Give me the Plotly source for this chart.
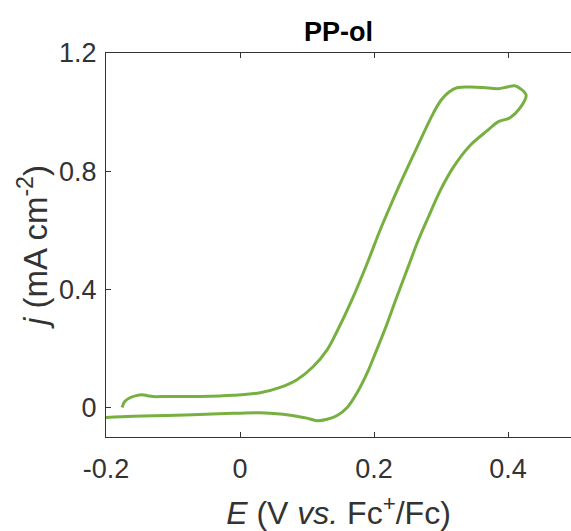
import plotly.graph_objects as go

# Cyclic voltammogram, PP-ol
E_forward = [-0.176, -0.172, -0.165, -0.155, -0.146, -0.138, -0.130, -0.109, -0.060, -0.010,
             0.030, 0.060, 0.085, 0.109, 0.130, 0.146, 0.167, 0.190, 0.209, 0.228,
             0.239, 0.264, 0.288, 0.300, 0.312, 0.325, 0.345, 0.363, 0.385, 0.399,
             0.410, 0.418, 0.427]
j_forward = [0.000, 0.020, 0.032, 0.040, 0.043, 0.040, 0.037, 0.037, 0.037, 0.041,
             0.050, 0.068, 0.094, 0.138, 0.195, 0.263, 0.364, 0.489, 0.600, 0.701,
             0.758, 0.880, 0.994, 1.040, 1.068, 1.083, 1.085, 1.083, 1.079, 1.085,
             1.089, 1.080, 1.057]
E_reverse = [0.418, 0.403, 0.385, 0.369, 0.343, 0.318, 0.299, 0.281, 0.265, 0.250,
             0.234, 0.216, 0.204, 0.190, 0.175, 0.160, 0.145, 0.130, 0.115, 0.100,
             0.085, 0.060, 0.030, -0.010, -0.060, -0.109, -0.160, -0.200]
j_reverse = [1.014, 0.981, 0.967, 0.937, 0.886, 0.812, 0.735, 0.644, 0.560, 0.470,
             0.374, 0.263, 0.195, 0.118, 0.051, 0.000, -0.027, -0.040, -0.045, -0.036,
             -0.030, -0.022, -0.018, -0.020, -0.024, -0.027, -0.030, -0.034]

x_ticks = [-0.2, 0, 0.2, 0.4]
x_tick_labels = ["-0.2", "0", "0.2", "0.4"]
y_ticks = [0, 0.4, 0.8, 1.2]
y_tick_labels = ["0", "0.4", "0.8", "1.2"]

E = E_forward + E_reverse
j = j_forward + j_reverse

AX = "#333333"
FONT = "Liberation Sans, Arial, Helvetica, sans-serif"

fig = go.Figure()
fig.add_trace(go.Scatter(x=E, y=j, mode="lines",
                         line=dict(color="#77B040", width=3, shape="spline", smoothing=1.0),
                         showlegend=False, hoverinfo="skip"))

fig.update_layout(
    width=571, height=531,
    margin=dict(l=106, r=0, t=53, b=94),
    paper_bgcolor="white", plot_bgcolor="white",
    font=dict(family=FONT, size=27, color=AX),
    title=dict(text="<b>PP-ol</b>", x=0.5, xref="paper", xanchor="center",
               y=1, yref="paper", yanchor="bottom", pad=dict(b=12),
               font=dict(family=FONT, size=27, color="#000000")),
    xaxis=dict(range=[-0.2, 0.494], tickvals=x_ticks, ticktext=x_tick_labels,
               ticks="inside", ticklen=5, tickwidth=1, tickcolor=AX,
               showline=True, linecolor=AX, linewidth=1, mirror="ticks",
               showgrid=False, zeroline=False,
               tickfont=dict(size=27, color=AX), ticklabelstandoff=8,
               title=dict(text="<i>E</i> (V <i>vs.</i> Fc<sup>+</sup>/Fc)",
                          font=dict(size=32, color=AX), standoff=18)),
    yaxis=dict(range=[-0.1, 1.2], tickvals=y_ticks, ticktext=y_tick_labels,
               ticks="inside", ticklen=5, tickwidth=1, tickcolor=AX,
               showline=True, linecolor=AX, linewidth=1, mirror=False,
               showgrid=False, zeroline=False,
               tickfont=dict(size=27, color=AX), ticklabelstandoff=3,
               title=dict(text="<i>j</i> (mA cm<sup>-2</sup>)",
                          font=dict(size=33, color=AX), standoff=1)),
)

fig.write_html("out.html")
